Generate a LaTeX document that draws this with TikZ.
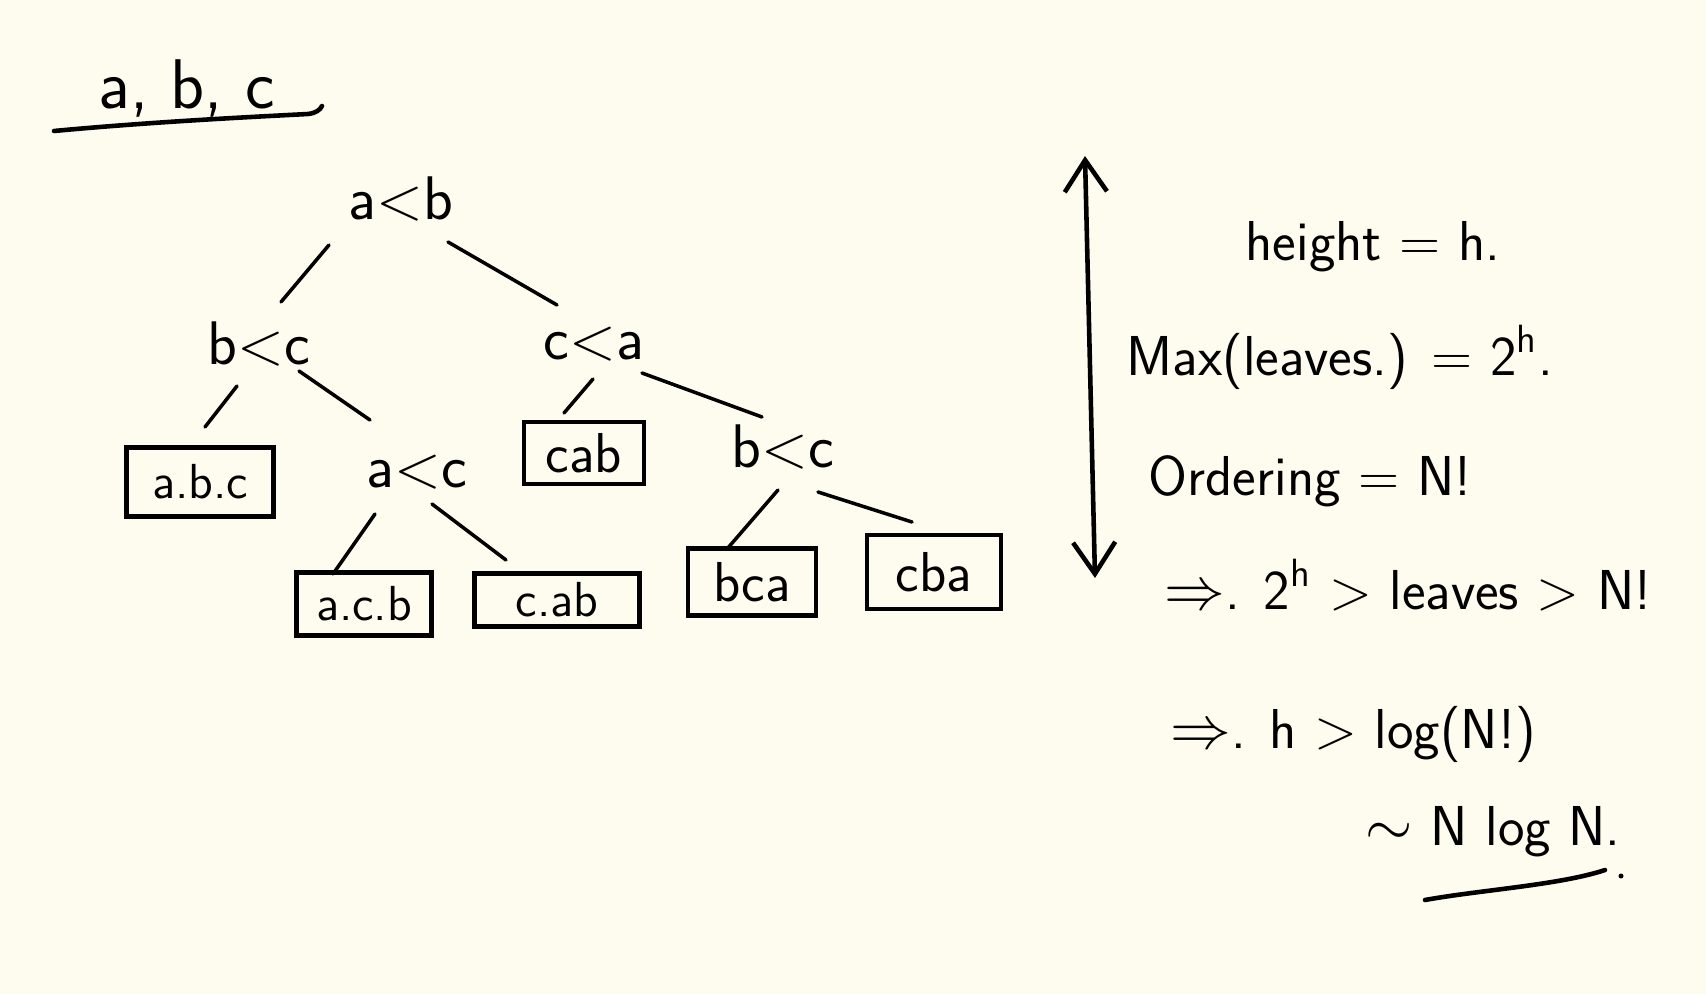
\documentclass[tikz,border=0pt]{standalone}
\usetikzlibrary{arrows.meta,calc}
\definecolor{paper}{RGB}{253,252,238}
\begin{document}
\begin{tikzpicture}[x=0.01cm,y=-0.01cm,
  hand/.style={inner sep=0pt, font=\sffamily\fontsize{16}{19}\selectfont},
  cmp/.style={inner sep=0pt, font=\sffamily\fontsize{17.5}{20}\selectfont},
  leaf/.style={draw, line width=1.2pt, inner sep=0pt, font=\sffamily\fontsize{14}{17}\selectfont},
  bigleaf/.style={leaf, font=\sffamily\fontsize{16}{19}\selectfont},
  edge/.style={line width=1pt, line cap=round},
  ink/.style={line width=1.3pt, line cap=round}]
\fill[paper] (0,0) rectangle (1706,994);
\useasboundingbox (0,0) rectangle (1706,994);

% title
\node[hand, anchor=base west, font=\sffamily\fontsize{20}{24}\selectfont] (title) at (98,109) {a, b, c};
\draw[ink] (54,131) .. controls (150,122) and (250,117) .. (308,114) .. controls (316,113) and (320,110) .. (322,106);

% comparison nodes
\node[cmp] (root) at (401,199) {a<b};
\node[cmp] (bc)   at (259,344) {b<c};
\node[cmp] (ca)   at (594,344) {c<a};
\node[cmp] (ac)   at (417,472) {a<c};
\node[cmp] (bc2)  at (783,447) {b<c};

% leaves
\node[leaf, minimum width=1.47cm, minimum height=0.69cm] (abc) at (200,482) {a.b.c};
\node[bigleaf, minimum width=1.20cm, minimum height=0.62cm] (cab) at (584,453) {cab};
\node[leaf, minimum width=1.35cm, minimum height=0.63cm] (acb) at (364,604) {a.c.b};
\node[leaf, minimum width=1.65cm, minimum height=0.53cm] (cab2) at (557,600) {c.ab};
\node[bigleaf, minimum width=1.28cm, minimum height=0.67cm] (bca) at (752,582) {bca};
\node[bigleaf, minimum width=1.34cm, minimum height=0.74cm] (cba) at (934,572) {cba};

% edges
\draw[edge] ($(root)+(-72,46)$) -- ($(bc)+(22,-42)$);
\draw[edge] ($(root)+(47,43)$) -- ($(ca)+(-37,-39)$);
\draw[edge] ($(bc)+(-22,42)$) -- ($(abc)+(5,-55)$);
\draw[edge] ($(bc)+(40,27)$) -- ($(ac)+(-47,-52)$);
\draw[edge] ($(ca)+(-1,35)$) -- ($(cab)+(-20,-40)$);
\draw[edge] ($(ca)+(48,29)$) -- ($(bc2)+(-21,-30)$);
\draw[edge] ($(ac)+(-42,42)$) -- ($(acb)+(-31,-30)$);
\draw[edge] ($(ac)+(15,32)$) -- ($(cab2)+(-51,-40)$);
\draw[edge] ($(bc2)+(-5,43)$) -- ($(bca)+(-25,-33)$);
\draw[edge] ($(bc2)+(35,45)$) -- ($(cba)+(-22,-50)$);

% height arrow
\coordinate (htop) at (1085,156);
\coordinate (hbot) at (1095,578);
\draw[ink, {Straight Barb[length=9pt,width=12pt]}-{Straight Barb[length=9pt,width=12pt]}] (htop) -- (hbot);

% right-hand notes
\node[hand, anchor=base west] (height) at (1245,261) {height = h.};
\node[hand, anchor=base west] (maxl) at (1126,375) {Max(leaves.) = 2\textsuperscript{h}.};
\node[hand, anchor=base west] (order) at (1148,495) {Ordering = N!};
\node[hand, anchor=base west] (imp1) at (1164,609) {$\Rightarrow$. 2\textsuperscript{h} > leaves > N!};
\node[hand, anchor=base west] (imp2) at (1170,748) {$\Rightarrow$. h > log(N!)};
\node[hand, anchor=base west] (nlogn) at (1365,845) {$\sim$ N log N.};
\draw[ink] (1425,900) .. controls (1480,890) and (1560,885) .. (1605,870);
\fill (1621,876) circle (2.5);
\end{tikzpicture}
\end{document}
